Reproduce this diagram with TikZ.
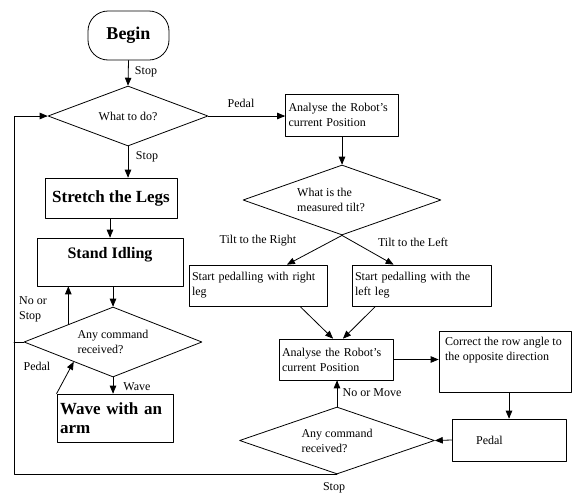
\documentclass[tikz,border=0pt]{standalone}
\usepackage{fontspec}
\setmainfont{Liberation Serif}
\usetikzlibrary{arrows}
\usetikzlibrary{shapes.geometric}
\usetikzlibrary{calc}

\begin{document}
\begin{tikzpicture}[line cap=round,line join=round,>=triangle 45,x=1pt,y=-1pt,
  lbl/.style={font=\fontsize{12}{15}\selectfont},
  box/.style={draw,line width=0.8pt,inner xsep=3pt,inner ysep=2pt,align=left,font=\fontsize{12}{15}\selectfont},
  bigbox/.style={draw,line width=0.8pt,inner sep=3pt,font=\fontsize{17}{19}\selectfont\bfseries},
  decision/.style={draw,line width=0.8pt,diamond,inner sep=1pt,align=left,font=\fontsize{12}{15}\selectfont},
  flow/.style={->,line width=0.8pt}]
\useasboundingbox (0,0) rectangle (573,493);
% left column
\node[draw,line width=0.8pt,rounded corners=20pt,minimum width=81pt,minimum height=49pt,font=\fontsize{18}{20}\selectfont\bfseries] (begin) at (128.5,35.5) {Begin};
\node[decision,aspect=2.67,minimum width=160pt,minimum height=60pt] (whatq) at (128,116) {What to do?};
\node[bigbox,minimum width=132pt,minimum height=40pt] (stretch) at (111,198) {Stretch the Legs};
\node[draw,line width=0.8pt,minimum width=146pt,minimum height=48pt,label={[font=\fontsize{16}{18}\selectfont\bfseries,anchor=north,yshift=-6pt]north:Stand Idling}] (idle) at (110,262) {};
\node[decision,aspect=2.54,minimum width=178pt,minimum height=70pt] (idleq) at (113,342) {Any command\\received?};
\node[bigbox,minimum width=116pt,minimum height=48pt,text width=110pt,align=left] (wave) at (115,418) {Wave with an\\arm};
% right part
\node[box,minimum height=42pt,text width=107pt] (analyseA) at (342,115) {Analyse the Robot's\\current Position};
\node[decision,aspect=2.83,minimum width=198pt,minimum height=70pt,label={[lbl,align=left,xshift=-11pt]center:What is the\\measured tilt?}] (tilt) at (342,200) {};
\node[box,text width=132pt,minimum height=41pt] (rightleg) at (258,285.5) {Start pedalling with right\\leg};
\node[box,text width=133pt,minimum height=41pt] (leftleg) at (421.5,285.5) {Start pedalling with the\\left leg};
\node[box,text width=108pt,minimum height=41pt] (analyseB) at (336,359.5) {Analyse the Robot's\\current Position};
\node[draw,line width=0.8pt,minimum width=132pt,minimum height=61pt,label={[lbl,anchor=north west,align=left,xshift=3pt,yshift=-3pt]north west:Correct the row angle to\\the opposite direction}] (correct) at (505,361.5) {};
\node[draw,line width=0.8pt,minimum width=114pt,minimum height=42pt,label={[lbl,anchor=west,xshift=21pt]west:Pedal}] (pedal) at (509,440) {};
\node[decision,aspect=2.9,minimum width=195pt,minimum height=67pt] (cmdq) at (337,440.5) {Any command\\received?};
\coordinate (loopx) at (14,474);
% connectors
\draw[flow] (begin.south) -- (whatq.north);
\draw[flow] (whatq.east) -- (whatq.east -| analyseA.west);
\draw[flow] (analyseA.south) -- (tilt.north);
\draw[flow] (tilt.south) -- ([xshift=29pt]rightleg.north);
\draw[flow] (tilt.south) -- ([xshift=-28pt]leftleg.north);
\draw[flow] ([xshift=42pt]rightleg.south) -- ([xshift=-3pt]analyseB.north);
\draw[flow] ([xshift=-46pt]leftleg.south) -- ([xshift=7pt]analyseB.north);
\draw[flow] (analyseB.east) -- (analyseB.east -| correct.west);
\draw[flow] (pedal.north |- correct.south) -- (pedal.north);
\draw[flow] (pedal.west) -- (cmdq.east);
\draw[flow] (cmdq.north) -- (cmdq.north |- analyseB.south);
\draw[flow] (cmdq.south) -- (cmdq.south -| loopx) -- (loopx |- whatq.west) -- (whatq.west);
\draw[line width=0.8pt] (idleq.west) -- (idleq.west -| loopx);
\draw[flow] (whatq.south) -- (whatq.south |- stretch.north);
\draw[flow] (idle.north |- stretch.south) -- (idle.north);
\draw[flow] (idleq.north |- idle.south) -- (idleq.north);
\draw[flow] (idleq.north west) -- (idleq.north west |- idle.south);
\draw[flow] (idleq.south) -- (idleq.south |- wave.north);
\draw[flow] (wave.north west) -- ($(idleq.west)!0.56!(idleq.south)$);
% labels
\node[lbl] (stopA) at (146,72) {Stop};
\node[lbl] (pedalA) at (241,103) {Pedal};
\node[lbl] (stopB) at (147,157) {Stop};
\node[lbl] (tiltR) at (258,241) {Tilt to the Right};
\node[lbl] (tiltL) at (413,242) {Tilt to the Left};
\node[lbl] (noMove) at (372,393) {No or Move};
\node[lbl] (stopC) at (334,488) {Stop};
\node[lbl,align=left] (noStop) at (33,309) {No or\\Stop};
\node[lbl] (pedalB) at (37,366) {Pedal};
\node[lbl] (waveL) at (137,387) {Wave};
\end{tikzpicture}
\end{document}
